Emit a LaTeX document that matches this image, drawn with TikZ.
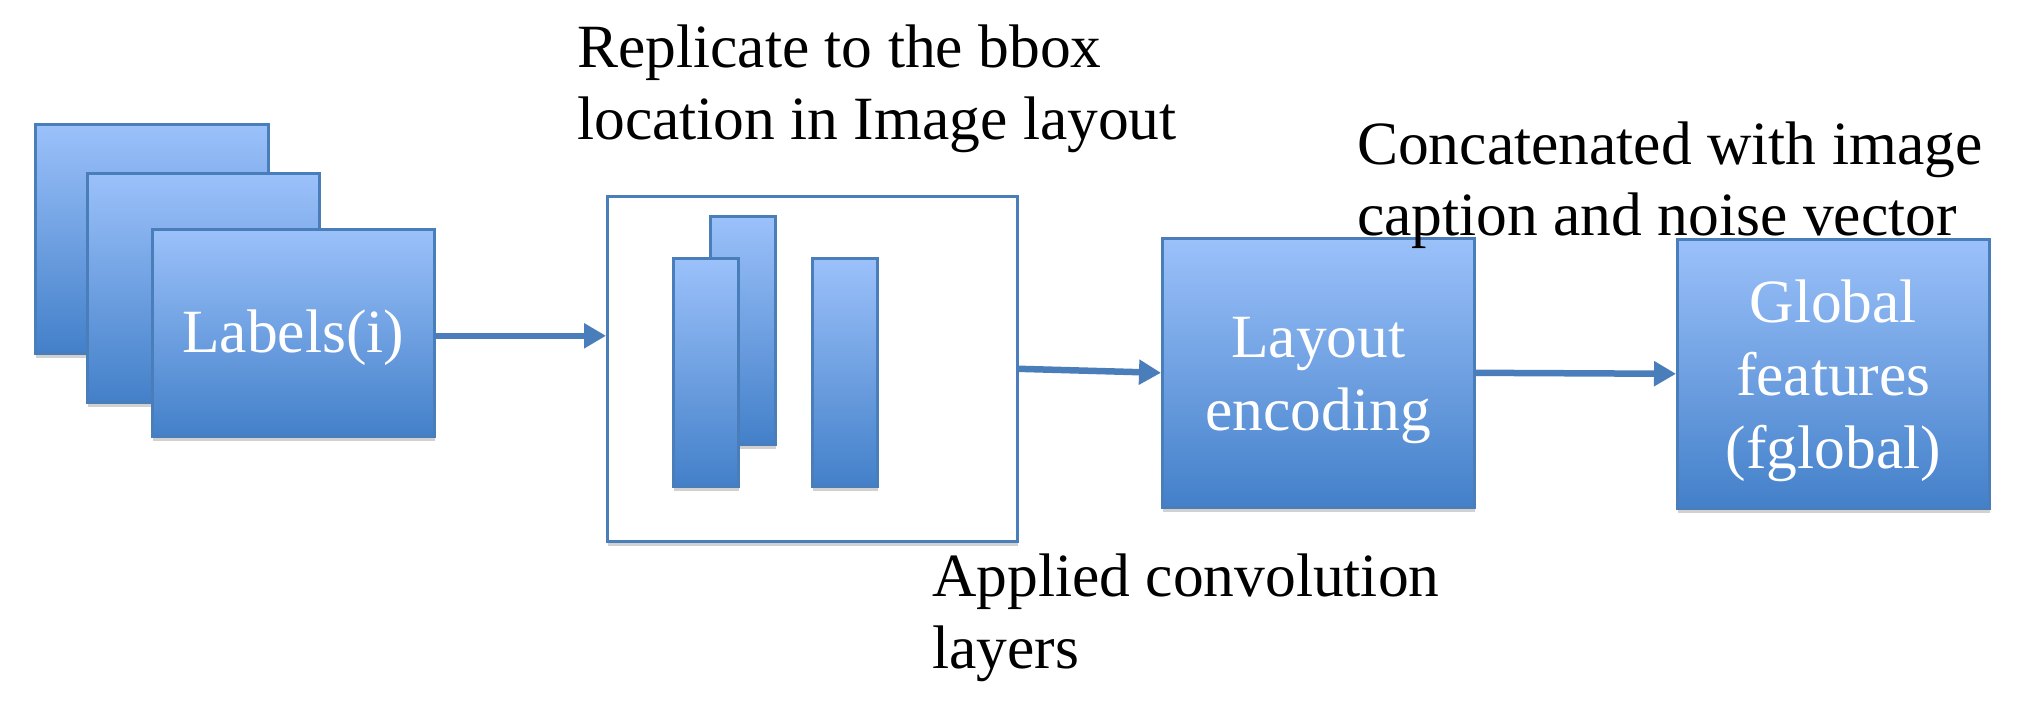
\documentclass[tikz,border=0pt]{standalone}
\usepackage{fontspec}
\setmainfont{Liberation Serif}
\usetikzlibrary{shadows,arrows.meta}
\definecolor{bordc}{HTML}{4A7EBB}
\definecolor{topc}{HTML}{9BC1FA}
\definecolor{botc}{HTML}{4380C9}
\begin{document}
\begin{tikzpicture}[x=1pt,y=-1pt,
  shad/.style={drop shadow={shadow xshift=1pt,shadow yshift=-5pt,opacity=0.18,fill=black}},
  bluebox/.style={draw=bordc,line width=2.6pt,top color=topc,bottom color=botc,shad,
    inner sep=0pt,anchor=north west},
  boxtxt/.style={text=white,font=\fontsize{61.5}{73}\selectfont,align=center,inner sep=0pt},
  whitebox/.style={draw=bordc,line width=2.6pt,fill=white,shad,inner sep=0pt,anchor=north west},
  bar/.style={bluebox,minimum width=65,minimum height=228},
  captxt/.style={font=\fontsize{61.5}{73}\selectfont,text=black,inner sep=0pt,anchor=base west},
  arr/.style={draw=bordc,line width=6.5pt,-{Triangle[length=22pt,width=24pt]}}]
\useasboundingbox (0,0) rectangle (2024,702);
\fill[white] (0,0) rectangle (2024,702);
% stacked label boxes
\node[bluebox,minimum width=233,minimum height=229] (l3) at (34,123) {};
\node[bluebox,minimum width=232,minimum height=229] (l2) at (86,172) {};
\node[bluebox,minimum width=282,minimum height=207] (l1) at (151,228) {};
\node[boxtxt] (l1t) at ([yshift=-5pt]l1.center) {Labels(i)};
% image layout box
\node[whitebox,minimum width=410,minimum height=345] (big) at (606,195) {};
\node[bar] (b1) at (709,215) {};
\node[bar] (b2) at (672,257) {};
\node[bar] (b3) at (811,257) {};
% layout encoding and global features
\node[bluebox,minimum width=312,minimum height=269] (lay) at (1161,237) {};
\node[boxtxt] (layt) at ([yshift=-8pt]lay.center) {Layout\\encoding};
\node[bluebox,minimum width=312,minimum height=269] (glob) at (1676,238) {};
\node[boxtxt] (globt) at ([yshift=-7pt]glob.center) {Global\\features\\(fglobal)};
% arrows
\draw[arr] ([yshift=-3pt]l1.east) -- ([yshift=-3pt]l1.east -| big.west);
\draw[arr] (big.east) -- (lay.west);
\draw[arr] (lay.east) -- (glob.west);
% captions
\node[captxt] (c1a) at (577,67) {Replicate to the bbox};
\node[captxt] (c1b) at (577,139) {location in Image layout};
\node[captxt] (c2a) at (1357,164) {Concatenated with image};
\node[captxt] (c2b) at (1357,235) {caption and noise vector};
\node[captxt] (c3a) at (932,596) {Applied convolution};
\node[captxt] (c3b) at (932,668) {layers};
\end{tikzpicture}
\end{document}
